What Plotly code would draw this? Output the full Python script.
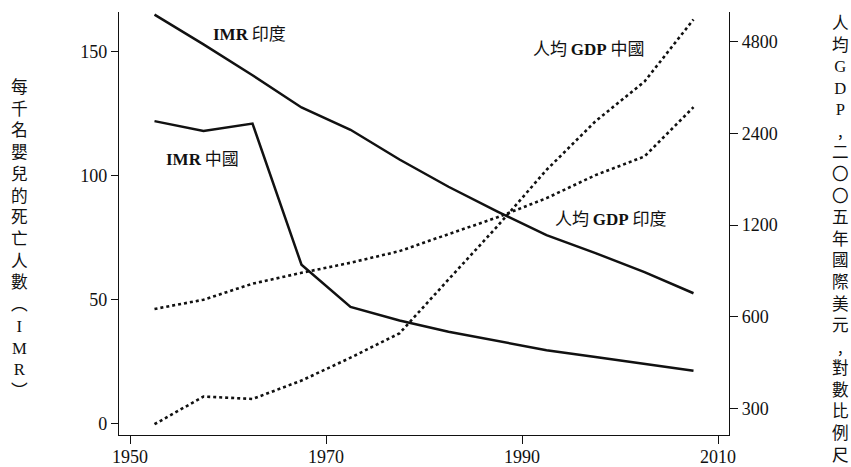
import plotly.graph_objects as go

# ---- data ----
years = [1952.5, 1957.5, 1962.5, 1967.5, 1972.5, 1977.5, 1982.5, 1987.5, 1992.5, 1997.5, 2002.5, 2007.5]
imr_india = [165, 153, 140.5, 127.5, 118.5, 106.5, 95.5, 85.5, 76, 68.7, 61, 52.5]
imr_china = [122, 118, 121, 64, 47, 41.5, 37, 33.3, 29.5, 26.8, 24, 21.2]
gdp_china = [266, 328, 322, 370, 440, 529, 795, 1190, 1820, 2630, 3550, 5680]
gdp_india = [636, 682, 770, 836, 902, 985, 1120, 1272, 1470, 1750, 2015, 2925]

x_ticks = [1950, 1970, 1990, 2010]
imr_ticks = [0, 50, 100, 150]
gdp_ticks = [300, 600, 1200, 2400, 4800]

left_title = "每千名嬰兒的死亡人數︵IMR︶"
right_title = "人均GDP,二〇〇五年國際美元,對數比例尺"

label_imr_india = "IMR 印度"
label_imr_china = "IMR 中國"
label_gdp_china = "人均 GDP 中國"
label_gdp_india = "人均 GDP 印度"

SERIF = "Liberation Serif, Times New Roman, serif"
CJK = "Noto Sans CJK TC, Noto Sans CJK SC, sans-serif"
INK = "#111111"

W, H = 851, 467
ML, MR, MT, MB = 119, 122, 12, 32
PW, PH = W - ML - MR, H - MT - MB


def px_x(px):
    return (px - ML) / PW


def px_y(py):
    return (H - MB - py) / PH


def vertical(text):
    parts = []
    for ch in text:
        if ch.isascii() and ch.isalpha():
            parts.append(f"<span style='font-family:Liberation Serif'>{ch}</span>")
        else:
            parts.append(ch)
    return "<br>".join(parts)


def styled(label):
    out = []
    for tok in label.split(" "):
        if tok.isascii():
            out.append(f"<b><span style='font-family:Liberation Serif'>{tok}</span></b>")
        else:
            out.append(tok)
    return " ".join(out)


fig = go.Figure()
fig.add_trace(go.Scatter(x=years, y=imr_india, mode="lines",
                         line=dict(color=INK, width=2.5), yaxis="y"))
fig.add_trace(go.Scatter(x=years, y=imr_china, mode="lines",
                         line=dict(color=INK, width=2.5), yaxis="y"))
fig.add_trace(go.Scatter(x=years, y=gdp_china, mode="lines",
                         line=dict(color=INK, width=2.6, dash="dot"), yaxis="y2"))
fig.add_trace(go.Scatter(x=years, y=gdp_india, mode="lines",
                         line=dict(color=INK, width=2.6, dash="dot"), yaxis="y2"))

axis_common = dict(showline=True, linecolor=INK, linewidth=1.3, ticks="outside",
                   tickcolor=INK, tickwidth=1.3, showgrid=False, zeroline=False,
                   automargin=False,
                   tickfont=dict(family=SERIF, size=18, color=INK))

fig.update_layout(
    width=W, height=H,
    margin=dict(l=ML, r=MR, t=MT, b=MB),
    plot_bgcolor="white", paper_bgcolor="white",
    showlegend=False,
    xaxis=dict(range=[1948.878, 2011.122], tickvals=x_ticks, ticklen=8,
               ticklabelstandoff=-3, **axis_common),
    yaxis=dict(range=[-4.72, 166.05], tickvals=imr_ticks, ticklen=7, **axis_common),
    yaxis2=dict(overlaying="y", side="right", type="log", range=[2.3895, 3.7788],
                tickvals=gdp_ticks, ticktext=[str(v) for v in gdp_ticks], ticklen=8,
                **axis_common),
)

ann_font = dict(family=CJK, size=17, color=INK)
annotations = [
    dict(text=styled(label_imr_india), x=px_x(249), y=px_y(33)),
    dict(text=styled(label_imr_china), x=px_x(202), y=px_y(157)),
    dict(text=styled(label_gdp_china), x=px_x(589), y=px_y(47)),
    dict(text=styled(label_gdp_india), x=px_x(611), y=px_y(217)),
]
for a in annotations:
    fig.add_annotation(xref="paper", yref="paper", showarrow=False,
                       xanchor="center", yanchor="middle", font=ann_font, **a)

fig.add_annotation(text=vertical(left_title), xref="paper", yref="paper",
                   x=px_x(19), y=px_y(238), showarrow=False,
                   xanchor="center", yanchor="middle",
                   font=dict(family=CJK, size=16.7, color=INK))
fig.add_annotation(text=vertical(right_title), xref="paper", yref="paper",
                   x=px_x(840), y=px_y(237.5), showarrow=False,
                   xanchor="center", yanchor="middle",
                   font=dict(family=CJK, size=16.6, color=INK))

fig.write_html("out.html", config={"displayModeBar": False},
               post_script="document.body.style.margin='0px';document.body.style.overflow='hidden';")
